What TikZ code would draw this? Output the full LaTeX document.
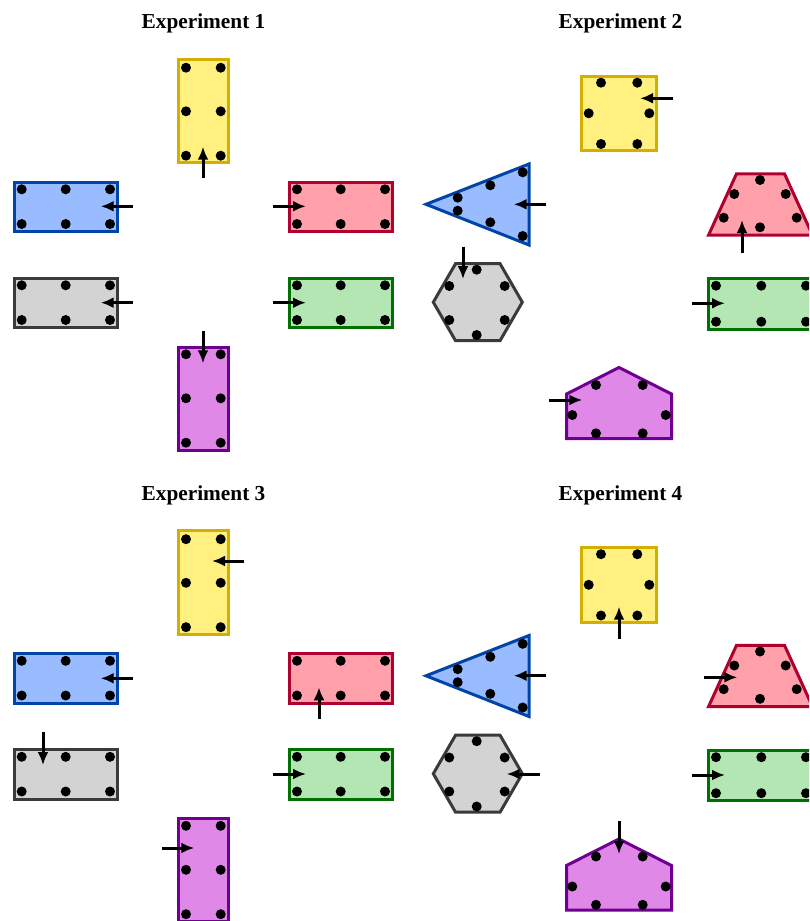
\documentclass[tikz,border=0pt]{standalone}
\usepackage{fontspec}
\setmainfont{Liberation Serif}
\usetikzlibrary{arrows.meta}
\definecolor{yfill}{HTML}{FFF080}
\definecolor{ydraw}{HTML}{D4AF00}
\definecolor{bfill}{HTML}{99BBFF}
\definecolor{bdraw}{HTML}{0044AA}
\definecolor{kfill}{HTML}{D3D3D3}
\definecolor{kdraw}{HTML}{3A3A3A}
\definecolor{rfill}{HTML}{FFA0AB}
\definecolor{rdraw}{HTML}{B00030}
\definecolor{gfill}{HTML}{B3E6B3}
\definecolor{gdraw}{HTML}{007000}
\definecolor{pfill}{HTML}{E088E8}
\definecolor{pdraw}{HTML}{6E0090}
\tikzset{
  shp/.style={line width=3pt, line join=miter},
  yshp/.style={shp, draw=ydraw, fill=yfill},
  bshp/.style={shp, draw=bdraw, fill=bfill},
  kshp/.style={shp, draw=kdraw, fill=kfill},
  rshp/.style={shp, draw=rdraw, fill=rfill},
  gshp/.style={shp, draw=gdraw, fill=gfill},
  pshp/.style={shp, draw=pdraw, fill=pfill},
  push/.style={line width=3pt, -{Latex[length=13pt,width=11pt]}},
  ttl/.style={font=\fontsize{21.3}{24}\selectfont\bfseries, anchor=base, inner sep=0pt}
}
\newcommand\mydot[2]{\fill (#1,#2) circle (5pt);}
\newcommand\layoutA{%
  \draw[yshp] (178.5,59) rectangle (228.5,162.5);
  \foreach \x/\y in {186/67.7,220.7/67.7,186/111.3,220.7/111.3,186/155.7,220.7/155.7}{\mydot{\x}{\y}}
  \draw[bshp] (14,182) rectangle (117,231.5);
  \foreach \x/\y in {21.7/189.3,65.7/189.3,110/189.3,21.7/224,65.7/224,110/224}{\mydot{\x}{\y}}
  \draw[kshp] (14,278) rectangle (117,327.5);
  \foreach \x/\y in {21.7/285.3,65.7/285.3,110/285.3,21.7/320,65.7/320,110/320}{\mydot{\x}{\y}}
  \draw[rshp] (289.8,182) rectangle (392.8,231.5);
  \foreach \x/\y in {297/189.3,340.7/189.3,385/189.3,297/224,340.7/224,385/224}{\mydot{\x}{\y}}
  \draw[gshp] (289.8,278) rectangle (392.8,327.5);
  \foreach \x/\y in {297/285.3,340.7/285.3,385/285.3,297/320,340.7/320,385/320}{\mydot{\x}{\y}}
  \draw[pshp] (178.5,347) rectangle (228.5,450);
  \foreach \x/\y in {186/354.3,220.7/354.3,186/398.3,220.7/398.3,186/442.7,220.7/442.7}{\mydot{\x}{\y}}
}
\newcommand\layoutB{%
  \draw[yshp] (581.8,76.2) rectangle (656.2,150.8);
  \foreach \x/\y in {601/82.7,637.3/82.7,588.7/113.3,649.3/113.3,601/144,637.3/144}{\mydot{\x}{\y}}
  \draw[bshp] (426,204.3) -- (529,164) -- (529,245) -- cycle;
  \foreach \x/\y in {522.7/172.3,490.3/185.3,457.7/197.7,457.7/210.7,490.3/222.3,522.7/236}{\mydot{\x}{\y}}
  \draw[kshp] (522.3,302.2) -- (500.05,263.7) -- (455.55,263.7) -- (433.3,302.2) -- (455.55,340.7) -- (500.05,340.7) -- cycle;
  \foreach \x/\y in {476.7/269.7,504.7/286,504.7/320,476.7/335,449.3/320,449.3/286}{\mydot{\x}{\y}}
  \draw[rshp] (708.5,235.2) -- (736.5,173.8) -- (784.5,173.8) -- (812.5,235.2) -- cycle;
  \foreach \x/\y in {760/180,734.3/194,785.7/194,723.7/217.7,796.7/217.7,760/227.3}{\mydot{\x}{\y}}
  \draw[gshp] (708.2,278.8) rectangle (811.2,329.2);
  \foreach \x/\y in {716/285.7,761.3/285.7,806/285.7,716/321.7,761.3/321.7,806/321.7}{\mydot{\x}{\y}}
  \draw[pshp] (566.5,394) -- (619,367.5) -- (671.5,394) -- (671.5,438.5) -- (566.5,438.5) -- cycle;
  \foreach \x/\y in {596/385,642.7/385,572.3/415,665.7/415,596/433.3,642.7/433.3}{\mydot{\x}{\y}}
}
\begin{document}
\begin{tikzpicture}[x=1pt,y=-1pt]
\useasboundingbox (0,0) rectangle (809,921);
\clip (0,0) rectangle (809,921);
\fill[white] (0,0) rectangle (809,921);
% titles
\node[ttl] (t1) at (203.5,28) {Experiment 1};
\node[ttl] (t2) at (620.5,28) {Experiment 2};
\node[ttl] (t3) at (203.5,500) {Experiment 3};
\node[ttl] (t4) at (620.5,500) {Experiment 4};
% Experiment 1
\layoutA
\draw[push] (203,177.7) -- (203,146.7);
\draw[push] (133,206.3) -- (100.7,206.3);
\draw[push] (133,302.7) -- (100.7,302.7);
\draw[push] (273.3,206.3) -- (306,206.3);
\draw[push] (273.3,302.7) -- (306,302.7);
\draw[push] (203,331) -- (203,363.3);
% Experiment 2
\layoutB
\draw[push] (673.3,98.3) -- (640,98.3);
\draw[push] (546.3,204.3) -- (513.7,204.3);
\draw[push] (463,246.7) -- (463,279);
\draw[push] (742,252.7) -- (742,220);
\draw[push] (691.7,303.3) -- (725,303.3);
\draw[push] (549,400) -- (582.3,400);
% Experiment 3
\begin{scope}[shift={(0,471.5)}]
\layoutA
\end{scope}
\draw[push] (244.3,561) -- (212,561);
\draw[push] (133,678.3) -- (100.7,678.3);
\draw[push] (319,719.3) -- (319,687.3);
\draw[push] (43,732.3) -- (43,765);
\draw[push] (273.3,774) -- (306,774);
\draw[push] (162,848) -- (194.3,848);
% Experiment 4
\begin{scope}[shift={(0,471.5)}]
\layoutB
\end{scope}
\draw[push] (619,639) -- (619,606.7);
\draw[push] (546.3,675.7) -- (513.7,675.7);
\draw[push] (539.7,774) -- (506.7,774);
\draw[push] (704,677.3) -- (737.3,677.3);
\draw[push] (691.7,775) -- (725,775);
\draw[push] (619,821) -- (619,854);
\end{tikzpicture}
\end{document}
